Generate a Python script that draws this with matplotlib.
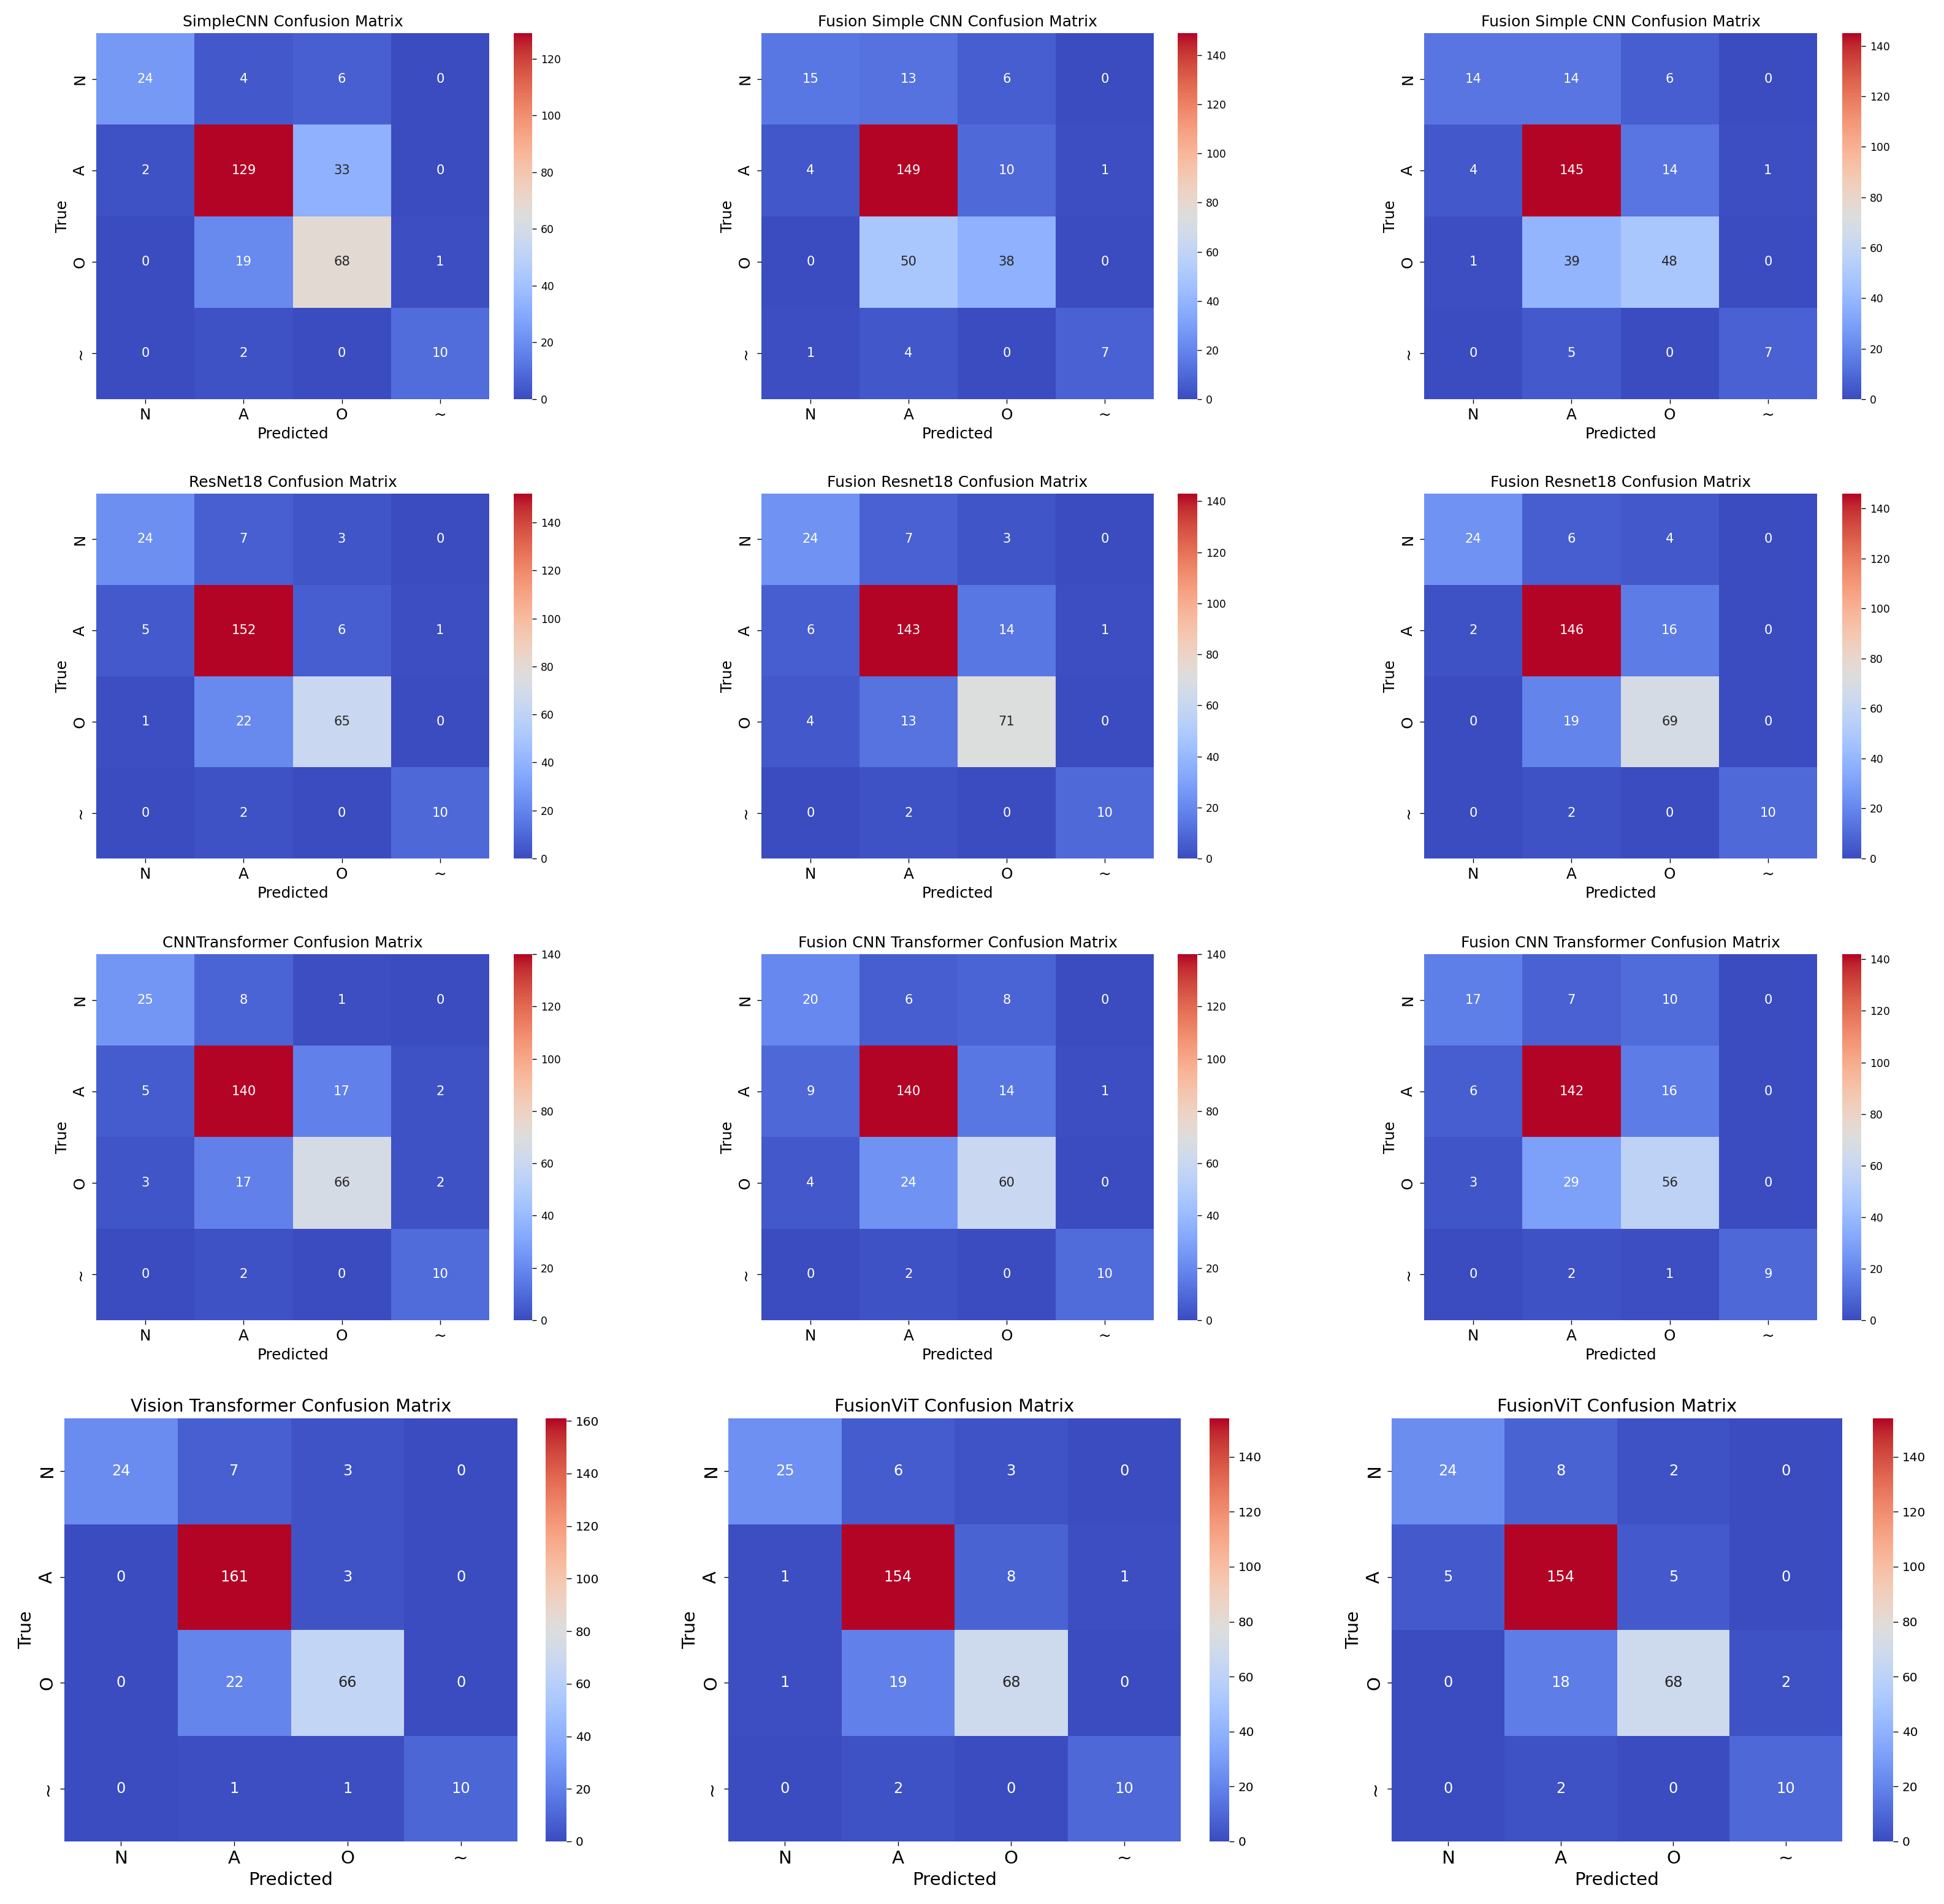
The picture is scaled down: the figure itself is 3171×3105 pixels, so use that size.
import numpy as np
import matplotlib
matplotlib.use('Agg')
import matplotlib.pyplot as plt
import seaborn as sns

W, H = 3171, 3105
labels = ['N', 'A', 'O', '~']

titles = ['SimpleCNN Confusion Matrix', 'Fusion Simple CNN Confusion Matrix', 'Fusion Simple CNN Confusion Matrix',
          'ResNet18 Confusion Matrix', 'Fusion Resnet18 Confusion Matrix', 'Fusion Resnet18 Confusion Matrix',
          'CNNTransformer Confusion Matrix', 'Fusion CNN Transformer Confusion Matrix', 'Fusion CNN Transformer Confusion Matrix',
          'Vision Transformer Confusion Matrix', 'FusionViT Confusion Matrix', 'FusionViT Confusion Matrix']

cm_simple = [[24, 4, 6, 0], [2, 129, 33, 0], [0, 19, 68, 1], [0, 2, 0, 10]]
cm_simple_f1 = [[15, 13, 6, 0], [4, 149, 10, 1], [0, 50, 38, 0], [1, 4, 0, 7]]
cm_simple_f2 = [[14, 14, 6, 0], [4, 145, 14, 1], [1, 39, 48, 0], [0, 5, 0, 7]]
cm_resnet = [[24, 7, 3, 0], [5, 152, 6, 1], [1, 22, 65, 0], [0, 2, 0, 10]]
cm_resnet_f1 = [[24, 7, 3, 0], [6, 143, 14, 1], [4, 13, 71, 0], [0, 2, 0, 10]]
cm_resnet_f2 = [[24, 6, 4, 0], [2, 146, 16, 0], [0, 19, 69, 0], [0, 2, 0, 10]]
cm_cnntr = [[25, 8, 1, 0], [5, 140, 17, 2], [3, 17, 66, 2], [0, 2, 0, 10]]
cm_cnntr_f1 = [[20, 6, 8, 0], [9, 140, 14, 1], [4, 24, 60, 0], [0, 2, 0, 10]]
cm_cnntr_f2 = [[17, 7, 10, 0], [6, 142, 16, 0], [3, 29, 56, 0], [0, 2, 1, 9]]
cm_vit = [[24, 7, 3, 0], [0, 161, 3, 0], [0, 22, 66, 0], [0, 1, 1, 10]]
cm_vit_f1 = [[25, 6, 3, 0], [1, 154, 8, 1], [1, 19, 68, 0], [0, 2, 0, 10]]
cm_vit_f2 = [[24, 8, 2, 0], [5, 154, 5, 0], [0, 18, 68, 2], [0, 2, 0, 10]]

matrices = [cm_simple, cm_simple_f1, cm_simple_f2,
            cm_resnet, cm_resnet_f1, cm_resnet_f2,
            cm_cnntr, cm_cnntr_f1, cm_cnntr_f2,
            cm_vit, cm_vit_f1, cm_vit_f2]

# pixel boxes of the panels (x0, x1, cbar x0, cbar x1)
cols_small = [(157, 798, 838, 868), (1242, 1882, 1921, 1953), (2323, 2964, 3005, 3036)]
cols_big = [(105, 844, 890, 924), (1188, 1926, 1973, 2005), (2270, 3005, 3055, 3088)]
rows = [(54, 651), (805, 1400), (1556, 2153), (2313, 3003)]

fig = plt.figure(figsize=(W / 200, H / 200), dpi=200)


def box(x0, x1, y0, y1):
    return [x0 / W, 1 - y1 / H, (x1 - x0) / W, (y1 - y0) / H]


for i, cm in enumerate(matrices):
    r, c = divmod(i, 3)
    big = r == 3
    x0, x1, cx0, cx1 = (cols_big if big else cols_small)[c]
    y0, y1 = rows[r]
    ax = fig.add_axes(box(x0, x1, y0, y1))
    cax = fig.add_axes(box(cx0, cx1, y0, y1))
    sns.heatmap(np.array(cm), annot=True, fmt='d', cmap='coolwarm', xticklabels=labels, yticklabels=labels,
                ax=ax, cbar_ax=cax, annot_kws={'size': 8.7 if big else 7.6})
    ax.set_title(titles[i], fontsize=10.4 if big else 9.0, pad=4)
    ax.set_xlabel('Predicted', fontsize=10.6 if big else 8.9, labelpad=2.5)
    ax.set_ylabel('True', fontsize=10.6 if big else 8.9, labelpad=2)
    ax.tick_params(axis='both', labelsize=10.6 if big else 8.9, length=2.5, width=0.5, pad=2.5)
    cax.tick_params(labelsize=7.2 if big else 6.2, length=2.8 if big else 2.5, width=0.5, pad=2.5)

fig.savefig('out.png', dpi=200)
